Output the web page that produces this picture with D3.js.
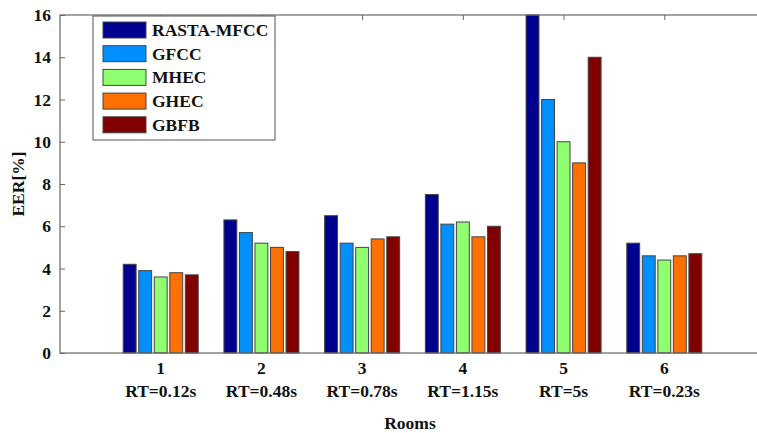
<!DOCTYPE html>
<html>
<head>
<meta charset="utf-8">
<script src="https://cdn.jsdelivr.net/npm/d3@7"></script>
</head>
<body style="margin:0; background:#fff">
<svg id="chart" width="757" height="433" font-family="Liberation Serif" font-weight="bold"></svg>
<script>
// rooms on the x axis, with the reverberation time under each
const rooms = [1, 2, 3, 4, 5, 6];
const rtLabels = ["RT=0.12s", "RT=0.48s", "RT=0.78s", "RT=1.15s", "RT=5s", "RT=0.23s"];
const features = ["RASTA-MFCC", "GFCC", "MHEC", "GHEC", "GBFB"];
const colors = ["#00008f", "#008fff", "#8fff70", "#ff7000", "#800000"];

// EER per room, one array per feature
const rastaMfcc = [4.2, 6.3, 6.5, 7.5, 16, 5.2];
const gfcc      = [3.9, 5.7, 5.2, 6.1, 12, 4.6];
const mhec      = [3.6, 5.2, 5.0, 6.2, 10, 4.4];
const ghec      = [3.8, 5.0, 5.4, 5.5, 9, 4.6];
const gbfb      = [3.7, 4.8, 5.5, 6.0, 14, 4.7];
const seriesVals = [rastaMfcc, gfcc, mhec, ghec, gbfb];
const yTicks = [0, 2, 4, 6, 8, 10, 12, 14, 16];

const svg = d3.select("#chart");
const plotL = 60, plotR = 765, plotT = 15, plotB = 353;

const x = d3.scaleLinear([0, 7], [plotL, plotR]);
const y = d3.scaleLinear([0, 16], [plotB, plotT]);
// position of each bar inside its group
const inner = d3.scaleBand(d3.range(features.length), [-37.5, 37.5]).paddingInner(0.17);

const axisCol = "#666";

// serif bold labels, like the matlab figure
function label(sel) {
    return sel.attr("font-family", "Times New Roman")
        .style("font-family", "\"Times New Roman\"")
        .style("font-weight", "bold")
        .style("font-size", "17.5px")
        .style("fill", "#111");
}

// bars
seriesVals.forEach((vals, s) => {
    svg.append("g").selectAll("rect")
        .data(vals)
        .enter()
        .append("rect")
            .attr("x", (d, i) => x(rooms[i]) + inner(s))
            .attr("y", d => y(d))
            .attr("width", inner.bandwidth())
            .attr("height", d => y(0) - y(d))
            .attr("fill", colors[s])
            .attr("stroke", "#444")
            .attr("stroke-width", 1)
});

// axes box (right side falls outside the window)
svg.append("rect")
    .attr("x", plotL).attr("y", plotT)
    .attr("width", plotR - plotL).attr("height", plotB - plotT)
    .attr("fill", "none").attr("stroke", axisCol).attr("stroke-width", 1.2);

// y axis, ticks pointing inward
svg.append("g")
    .attr("transform", `translate(${plotL},0)`)
    .call(d3.axisRight(y).tickValues(yTicks).tickSize(5).tickFormat(""))
    .call(g => g.select(".domain").remove())
    .selectAll("line").attr("stroke", axisCol);

svg.append("g")
    .attr("transform", `translate(${plotR},0)`)
    .call(d3.axisLeft(y).tickValues(yTicks).tickSize(5).tickFormat(""))
    .call(g => g.select(".domain").remove())
    .selectAll("line").attr("stroke", axisCol);

svg.selectAll(".ylab")
    .data(yTicks)
    .enter()
    .append("text")
        .attr("x", plotL - 9)
        .attr("y", d => y(d) + 6)
        .attr("text-anchor", "end")
        .call(label)
        .text(d => d);

// x ticks along the top
svg.append("g")
    .attr("transform", `translate(0,${plotT})`)
    .call(d3.axisBottom(x).tickValues(rooms).tickSize(5).tickFormat(""))
    .call(g => g.select(".domain").remove())
    .selectAll("line").attr("stroke", axisCol);

svg.selectAll(".xlab")
    .data(rooms)
    .enter()
    .append("text")
        .attr("x", d => x(d))
        .attr("y", 374)
        .attr("text-anchor", "middle")
        .call(label)
        .text(d => d);

svg.selectAll(".rtlab")
    .data(rtLabels)
    .enter()
    .append("text")
        .attr("x", (d, i) => x(rooms[i]))
        .attr("y", 397)
        .attr("text-anchor", "middle")
        .call(label)
        .text(d => d);

svg.append("text")
    .attr("x", 410).attr("y", 429)
    .attr("text-anchor", "middle")
    .call(label)
    .text("Rooms");

svg.append("text")
    .attr("transform", `translate(24,${(plotT + plotB) / 2}) rotate(-90)`)
    .attr("text-anchor", "middle")
    .call(label)
    .text("EER[%]");

// legend
const legend = svg.append("g");
legend.append("rect")
    .attr("x", 93).attr("y", 16)
    .attr("width", 182).attr("height", 124)
    .attr("fill", "#fff").attr("stroke", "#555").attr("stroke-width", 1);

features.forEach((f, i) => {
    const cy = 30 + i * 23.7;
    legend.append("rect")
        .attr("x", 103).attr("y", cy - 8)
        .attr("width", 43).attr("height", 16)
        .attr("fill", colors[i]).attr("stroke", "#444");
    legend.append("text")
        .attr("x", 152).attr("y", cy + 6)
        .call(label)
        .text(f);
});
</script>
</body>
</html>
